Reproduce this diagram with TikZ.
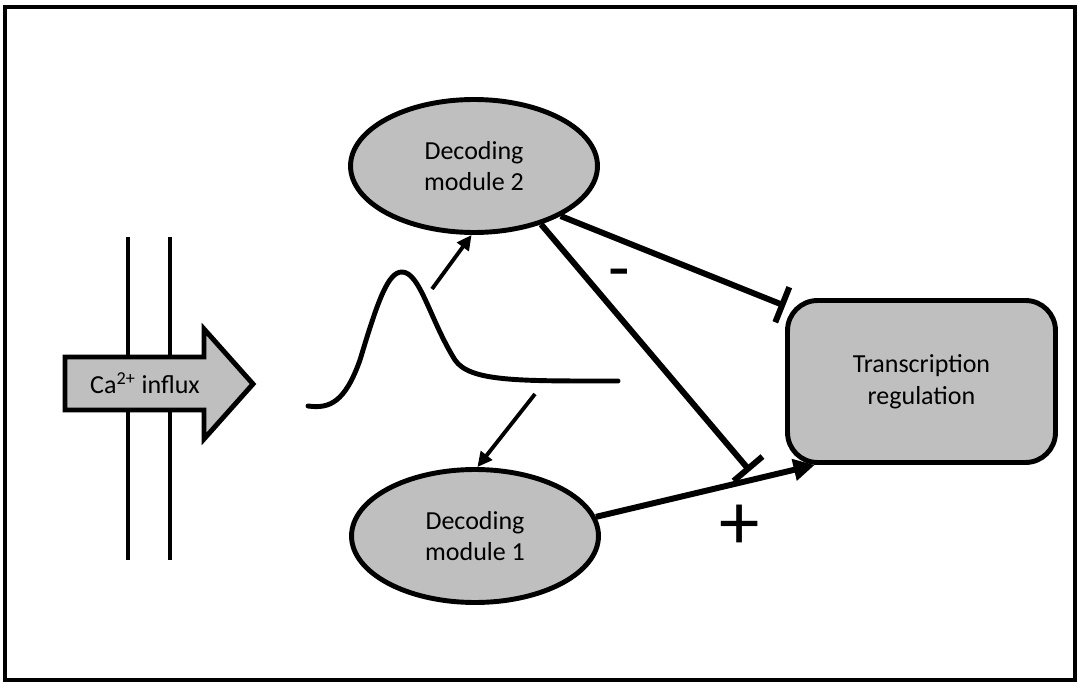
\documentclass[tikz,border=0pt]{standalone}
\usepackage{fontspec}
\setmainfont{Carlito}
\usepackage{tikz}
\usetikzlibrary{arrows.meta, shapes.geometric, calc}
\definecolor{boxgray}{RGB}{191,191,191}

\begin{document}
\begin{tikzpicture}[
    x=0.02cm, y=-0.02cm,
    module/.style={ellipse, draw=black, line width=2.8pt, fill=boxgray,
                   minimum width=4.94cm, minimum height=2.66cm, inner sep=0pt,
                   align=center, font=\fontsize{14.8}{18}\selectfont},
    target/.style={rectangle, draw=black, line width=2.8pt, fill=boxgray,
                   minimum width=5.36cm, minimum height=3.24cm, rounded corners=0.6cm,
                   align=center, font=\fontsize{14.8}{18}\selectfont},
    thinarr/.style={-{Triangle[length=8.5pt, width=8pt]}, line width=2.2pt},
    actarr/.style={-{Triangle[length=12pt, width=12pt]}, line width=3.4pt},
    inhib/.style={-{Bar[width=21.5pt]}, line width=3.4pt},
    sign/.style={inner sep=0pt},
]
\useasboundingbox (0,0) rectangle (1078,682);
\draw[line width=2.6pt] (5,7) rectangle (1075,680);

% membrane and influx
\draw[line width=2.8pt] (128,237) -- (128,560);
\draw[line width=2.8pt] (170,237) -- (170,560);
\draw[line width=2.8pt, fill=boxgray, line join=miter]
    (65,357) -- (204,357) -- (204,329) -- (253,384) -- (204,439) -- (204,410) -- (65,410) -- cycle;
\node[font=\fontsize{14.8}{18}\selectfont] (influx) at (145,383) {Ca\textsuperscript{2+} influx};

% calcium spike
\draw[line width=2.8pt, line cap=round]
    (308,406) .. controls (330,409) and (345,402) .. (360,360)
    .. controls (378,300) and (388,272) .. (402,272)
    .. controls (420,272) and (430,320) .. (455,360)
    .. controls (470,382) and (520,381) .. (618,381);

\node[module] (dm2) at (474,166) {Decoding\\module 2};
\node[module] (dm1) at (475,536) {Decoding\\module 1};
\node[target] (trans) at (921.5,381.5) {Transcription\\regulation};

\coordinate (up) at (432,289);
\coordinate (down) at (535,394);
\coordinate (block) at (750,471);

\draw[thinarr] (up) -- (dm2.-92);
\draw[thinarr] (down) -- (dm1.88);
\draw[inhib] (dm2.-30) -- (trans.151);
\draw[inhib] (dm2.-41) -- (block);
\draw[actarr] (dm1.9) -- (trans.218);

\node[sign, font=\fontsize{40}{40}\selectfont] (minus) at (619,280) {-};
\node[sign, font=\fontsize{46}{46}\selectfont] (plus) at (740,527) {+};
\end{tikzpicture}
\end{document}
